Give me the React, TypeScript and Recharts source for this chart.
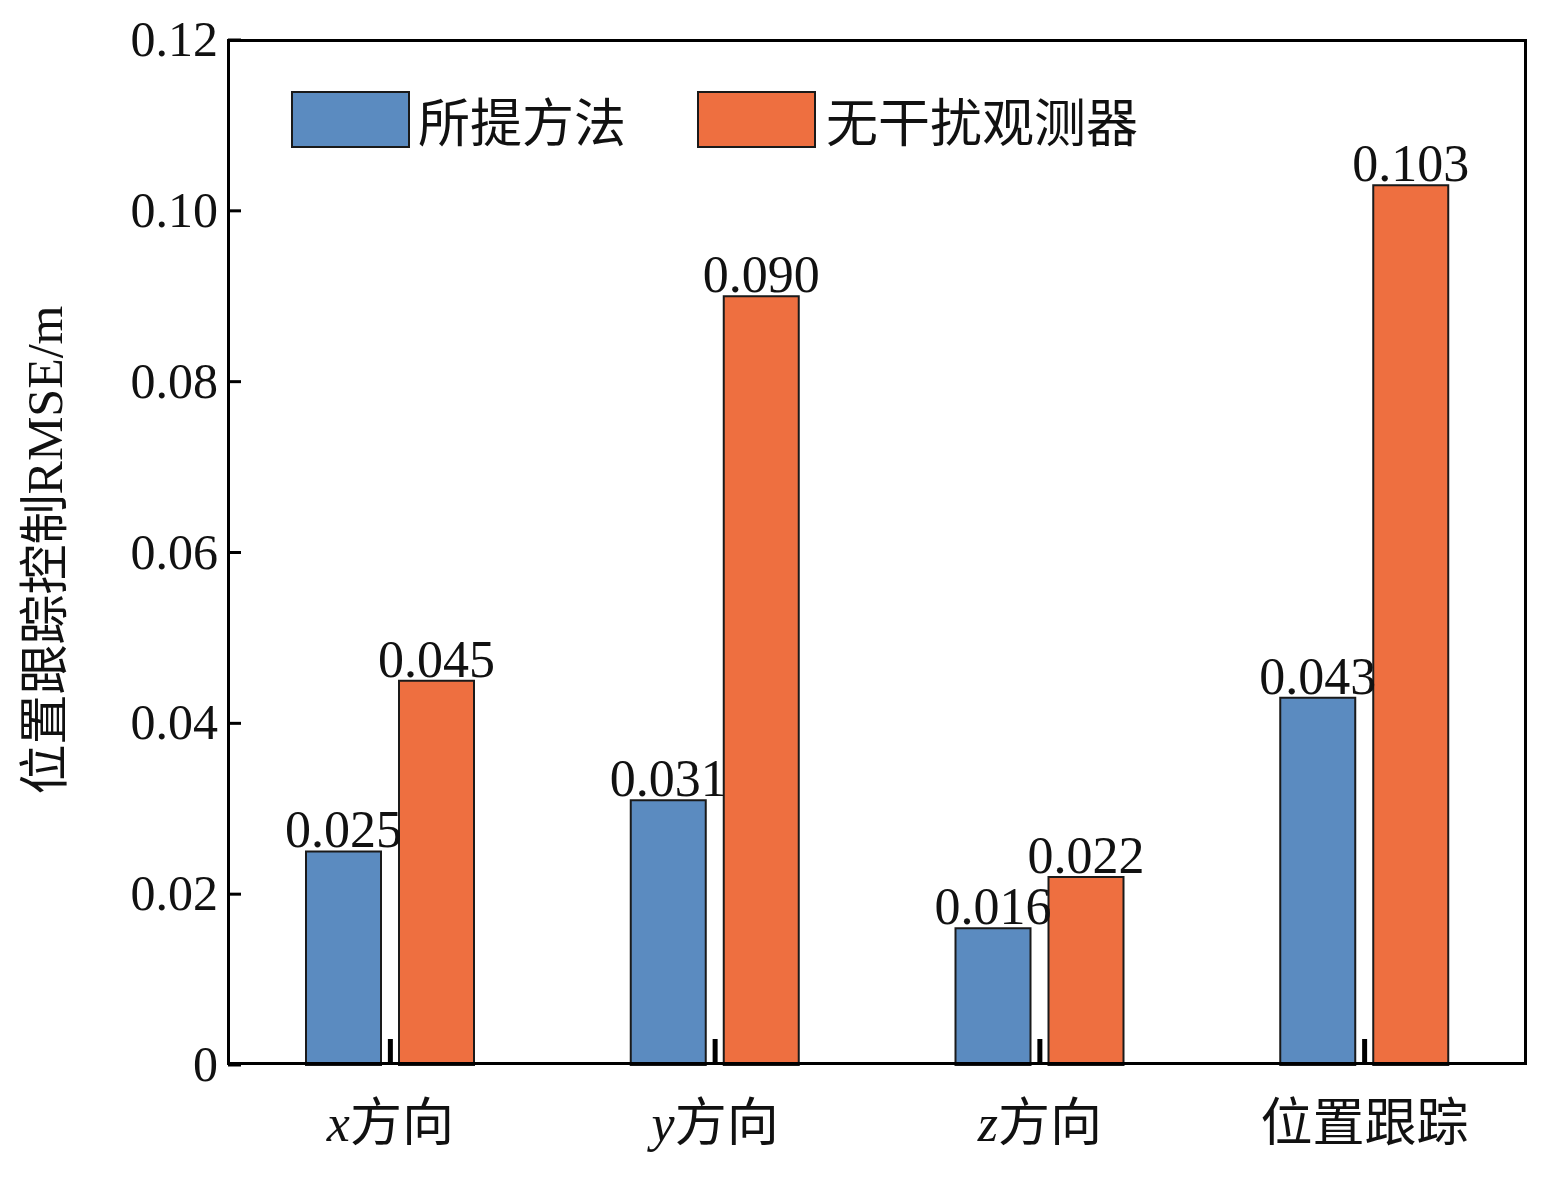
import { Bar, BarChart, LabelList, XAxis, YAxis } from "recharts";

const categories = ["x方向", "y方向", "z方向", "位置跟踪"];
const proposed = [0.025, 0.031, 0.016, 0.043];
const noObserver = [0.045, 0.09, 0.022, 0.103];
const yTicks = [0, 0.02, 0.04, 0.06, 0.08, 0.1, 0.12];

const data = categories.map((name, i) => ({ name, a: proposed[i], b: noObserver[i] }));

const SERIF = "'Liberation Serif', 'Noto Sans CJK SC', serif";
const CJK = "'Noto Sans CJK SC', sans-serif";

const YTick = (props: any) => {
  const { x, y, payload } = props;
  const v = payload.value as number;
  return (
    <g>
      <line x1={x} x2={x + 13} y1={y} y2={y} stroke="#000" strokeWidth={3} />
      <text x={x - 10} y={y + 16} textAnchor="end" fontSize={50} fontFamily={SERIF} fill="#111">
        {v === 0 ? "0" : v.toFixed(2)}
      </text>
    </g>
  );
};

const XTick = (props: any) => {
  const { x, y, payload } = props;
  const s = payload.value as string;
  const latin = /^[xyz]/.test(s);
  return (
    <g>
      <line x1={x} x2={x} y1={y} y2={y - 26} stroke="#000" strokeWidth={5} />
      <text x={x} y={y + 76} textAnchor="middle" fontSize={52} fill="#111">
        {latin ? (
          <>
            <tspan fontFamily={SERIF} fontStyle="italic">{s[0]}</tspan>
            <tspan fontFamily={CJK}>{s.slice(1)}</tspan>
          </>
        ) : (
          <tspan fontFamily={CJK}>{s}</tspan>
        )}
      </text>
    </g>
  );
};

const fmt = (v: any) => Number(v).toFixed(3);

export default function App() {
  return (
    <div style={{ position: "relative", width: 1553, height: 1186, margin: -8, background: "#fff" }}>
      <BarChart
        width={1553}
        height={1186}
        data={data}
        margin={{ top: 40, right: 26, bottom: 0, left: 227 }}
        barSize={75}
        barGap={18}
      >
        <XAxis dataKey="name" height={121} tick={<XTick />} tickSize={0} tickMargin={0} interval={0} axisLine={false} tickLine={false} />
        <YAxis domain={[0, 0.12]} ticks={yTicks} width={1} tick={<YTick />} tickSize={0} tickMargin={0} tickLine={false} axisLine={false} />
        <Bar dataKey="a" fill="#5b8bc0" stroke="#1a1a1a" strokeWidth={2} isAnimationActive={false}>
          <LabelList dataKey="a" position="top" formatter={fmt} fontSize={52} fontFamily={SERIF} fill="#111" offset={4} />
        </Bar>
        <Bar dataKey="b" fill="#ee6f40" stroke="#1a1a1a" strokeWidth={2} isAnimationActive={false}>
          <LabelList dataKey="b" position="top" formatter={fmt} fontSize={52} fontFamily={SERIF} fill="#111" offset={4} />
        </Bar>
      </BarChart>
      <div style={{ position: "absolute", left: 227, top: 39, width: 1300, height: 1026, border: "3px solid #000", boxSizing: "border-box", pointerEvents: "none" }} />
      <div style={{ position: "absolute", left: 10, top: 550, transform: "translate(0,-50%) rotate(-90deg)", transformOrigin: "center", width: 60, display: "flex", justifyContent: "center" }}>
        <span style={{ whiteSpace: "nowrap", fontSize: 50, color: "#111" }}>
          <span style={{ fontFamily: CJK }}>位置跟踪控制</span>
          <span style={{ fontFamily: SERIF }}>RMSE/m</span>
        </span>
      </div>
      <div style={{ position: "absolute", left: 291, top: 82, display: "flex", alignItems: "center", fontFamily: CJK, fontSize: 52, color: "#111" }}>
        <span style={{ width: 119, height: 57, background: "#5b8bc0", border: "2px solid #1a1a1a", boxSizing: "border-box" }} />
        <span style={{ marginLeft: 8, width: 279 }}>所提方法</span>
        <span style={{ width: 119, height: 57, background: "#ee6f40", border: "2px solid #1a1a1a", boxSizing: "border-box" }} />
        <span style={{ marginLeft: 10 }}>无干扰观测器</span>
      </div>
    </div>
  );
}
